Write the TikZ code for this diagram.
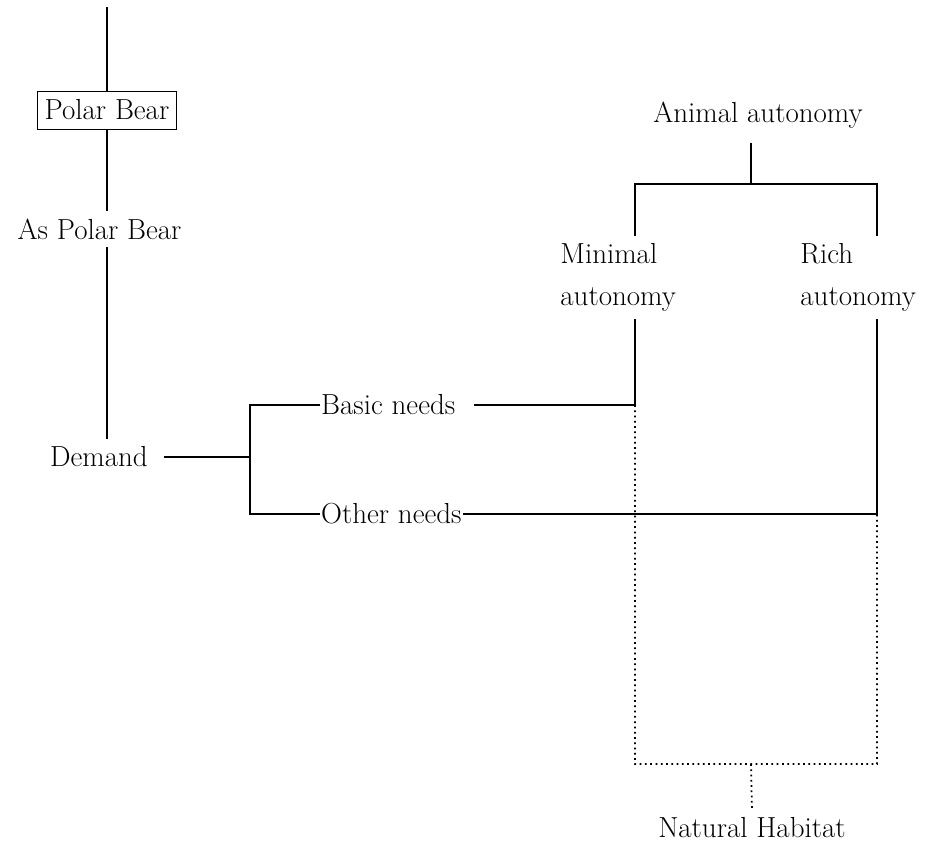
\documentclass[tikz,border=0pt]{standalone}
\usepackage{tikz}
\usetikzlibrary{
    calc,
    positioning
}

\tikzset{
    lbl/.style={inner sep=4pt, font=\fontsize{16.5}{24}\selectfont},
    framed/.style={lbl, draw, line width=0.5pt, inner sep=1pt, minimum width=2.78cm, minimum height=0.76cm},
    link/.style={line width=0.9pt},
    hint/.style={dotted, line width=1pt}
}

\begin{document}
\begin{tikzpicture}[x=0.02cm, y=-0.02cm]
                        \useasboundingbox (0, 0) rectangle (934, 843);
                        % left column
                        \coordinate (top) at (107, 7);
                        \node[framed] (pb) at (107, 110) {Polar Bear};
                        \node[lbl] (asp) at (99.5, 229) {As Polar Bear};
                        \node[lbl] (dem) at (99, 457) {Demand};
                        \coordinate (fork) at (250, 457);
                        \node[lbl, anchor=west, inner xsep=0.5pt] (basic) at (320, 405) {Basic needs};
                        \node[lbl, anchor=west, inner xsep=0.5pt] (other) at (320, 514) {Other needs};
                        % right tree
                        \node[lbl, inner ysep=8pt] (anim) at (758, 115) {Animal autonomy};
                        \coordinate (ab) at (751, 184);
                        \node[lbl, align=left, anchor=north west] (mini) at (553, 236) {Minimal\\autonomy};
                        \node[lbl, align=left, anchor=north west] (rich) at (793, 236) {Rich\\autonomy};
                        \coordinate (mj) at (635, 405);
                        \coordinate (rj) at (877, 514);
                        \coordinate (db) at (751, 764);
                        \node[lbl] (nat) at (752, 828) {Natural Habitat};
                        \draw[link]
                        (top) -- (top |- pb.north)
                        (top |- pb.south) -- (top |- asp.north)
                        (top |- asp.south) -- (top |- dem.north)
                        ([xshift=5pt]dem.east) -- (fork)
                        (basic.west) -| (fork) |- (other.west);
                        \draw[link]
                        (anim.south -| ab) -- (ab)
                        (mini.north -| mj) |- (ab) -| (rich.north -| rj)
                        ([xshift=10pt]basic.east) -- (mj) -- (mini.south -| mj)
                        (other.east) -- (rj) -- (rich.south -| rj);
                        \draw[hint]
                        (mj) |- (db) -| (rj)
                        (db) -- (nat.north);
                    \end{tikzpicture}
\end{document}
